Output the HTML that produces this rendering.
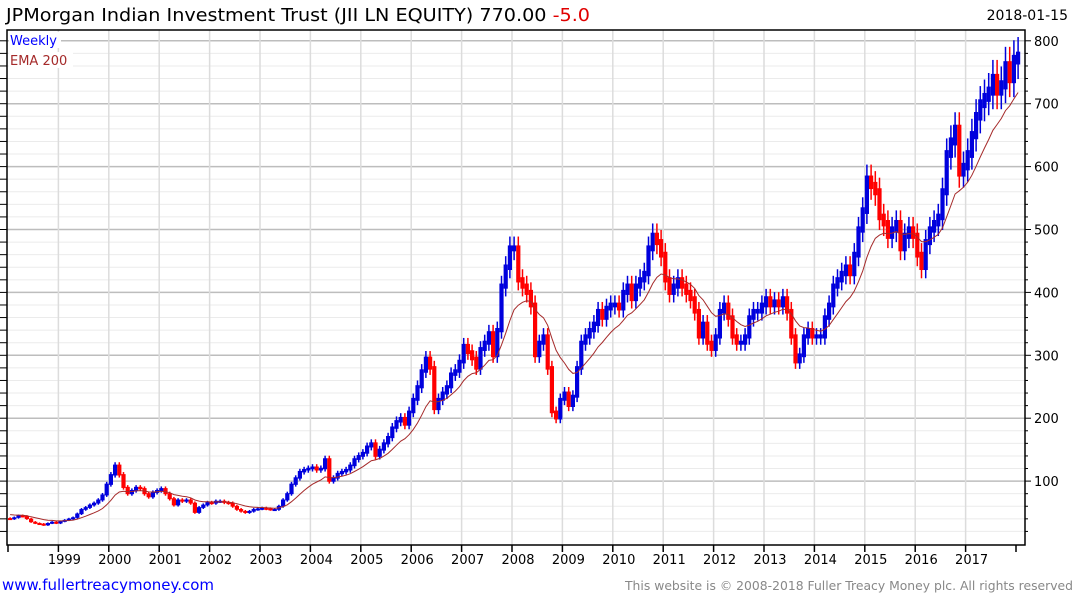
<!DOCTYPE html>
<html><head><meta charset="utf-8">
<style>
html,body{margin:0;padding:0;background:#fff;width:1075px;height:600px;overflow:hidden;font-family:"DejaVu Sans","Liberation Sans",sans-serif;}
svg{position:absolute;left:0;top:0;}
</style></head>
<body>
<svg id="chart" width="1075" height="600">
  <g id="grid"></g>
  <g id="bars"></g>
  <polyline id="ema" fill="none" stroke="#a52a2a" stroke-width="1"/>
  <rect x="7" y="30" width="1018" height="515" fill="none" stroke="#000" stroke-width="1.5"/>
  <g id="axes"></g>
  <text x="6" y="21" font-size="18" fill="#000" textLength="584" lengthAdjust="spacingAndGlyphs">JPMorgan Indian Investment Trust (JII LN EQUITY) 770.00 <tspan fill="#e00000">-5.0</tspan></text>
  <text x="1068" y="20" font-size="14" fill="#000" text-anchor="end">2018-01-15</text>
  <rect x="9" y="32" width="52" height="16" fill="#fff"/>
  <text x="10" y="45" font-size="13" fill="#0000ff">Weekly</text>
  <rect x="9" y="52" width="64" height="16" fill="#fff"/>
  <text x="10" y="65" font-size="13" fill="#a52a2a">EMA 200</text>
  <text x="2" y="590" font-size="15" fill="#0000ff">www.fullertreacymoney.com</text>
  <text x="1073" y="590" font-size="12.5" fill="#888" text-anchor="end" textLength="448" lengthAdjust="spacingAndGlyphs">This website is © 2008-2018 Fuller Treacy Money plc. All rights reserved</text>
</svg>
<script>
const yearLabels = ["1999","2000","2001","2002","2003","2004","2005","2006","2007","2008","2009","2010","2011","2012","2013","2014","2015","2016","2017"];
const yTicks = [100,200,300,400,500,600,700,800];
const closes1998 = [40,42,45,44,40,35,33,32,30,33,35,33];
const closes1999 = [36,38,40,42,48,55,58,62,65,70,78,95];
const closes2000 = [110,125,110,90,80,85,90,88,80,75,82,85];
const closes2001 = [88,80,72,62,70,68,70,65,50,58,62,66];
const closes2002 = [65,68,68,66,65,60,55,52,50,52,55,56];
const closes2003 = [57,56,55,55,60,70,80,95,105,115,118,120];
const closes2004 = [122,118,120,135,100,105,112,115,118,125,135,140];
const closes2005 = [145,155,160,140,150,160,170,185,195,200,190,210];
const closes2006 = [230,250,275,295,280,215,230,240,250,270,275,290];
const closes2007 = [315,305,295,280,310,320,335,300,340,410,440,470];
const closes2008 = [470,420,410,400,380,300,320,330,280,210,200,230];
const closes2009 = [240,220,235,280,320,330,340,350,370,360,375,380];
const closes2010 = [380,375,400,410,390,410,420,430,470,490,480,460];
const closes2011 = [420,400,410,420,410,400,390,370,330,350,320,310];
const closes2012 = [330,370,380,360,330,320,320,330,360,370,370,380];
const closes2013 = [390,380,385,380,390,370,330,290,300,330,340,330];
const closes2014 = [330,330,360,380,410,420,430,440,430,460,500,530];
const closes2015 = [580,570,560,520,510,490,500,510,470,490,500,490];
const closes2016 = [460,440,480,500,510,520,560,620,640,660,590,600];
const closes2017 = [620,650,680,700,710,720,740,720,730,760,740,770];
const closes2018 = [775];
const closes = [].concat(closes1998,closes1999,closes2000,closes2001,closes2002,closes2003,closes2004,closes2005,closes2006,closes2007,closes2008,closes2009,closes2010,closes2011,closes2012,closes2013,closes2014,closes2015,closes2016,closes2017,closes2018);
const emaStart = 48;

const NS="http://www.w3.org/2000/svg";
const X0=8, PXY=50.4, PL=7, PR=1025, PT=30, PB=545;
function xYear(y){return X0+(y-1998)*PXY;}
function xMonth(i){return X0+(i+0.5)*PXY/12;}
function yVal(v){return 544-0.629*v;}
function mk(tag,attrs,parent){const e=document.createElementNS(NS,tag);for(const k in attrs)e.setAttribute(k,attrs[k]);parent.appendChild(e);return e;}

const grid=document.getElementById('grid'), axes=document.getElementById('axes'), bars=document.getElementById('bars');
for(let v=20;v<=820;v+=20){
  const y=yVal(v); if(y<PT||y>PB)continue;
  const major=v%100===0;
  const l=mk('line',{x1:PL,x2:PR,y1:y,y2:y,stroke:major?'#bdbdbd':'#ebebeb','stroke-width':major?1.5:1},grid);
  
  
  const t=mk('line',{x1:0,x2:PL,y1:y,y2:y,stroke:'#000','stroke-width':1},axes);
  
  
  const t2=mk('line',{x1:PR,x2:PR+(major?6:3),y1:y,y2:y,stroke:'#000','stroke-width':1},axes);
  
  
}
for(let yr=1998;yr<=2018;yr++){
  const x=xYear(yr);
  if(yr>1998&&yr<2018){
    const g=mk('line',{x1:x,x2:x,y1:PT,y2:PB,stroke:'#dcdcdc','stroke-width':1.5},grid);
    
    
  }
  const t=mk('line',{x1:x,x2:x,y1:PB,y2:PB+7,stroke:'#000','stroke-width':1.5},axes);
  
  
}
yearLabels.forEach(lab=>{
  const yr=+lab;
  const t=mk('text',{x:xYear(yr)+6,y:564,'font-size':13,'text-anchor':'middle',fill:'#000'},axes);
  t.textContent=lab;
  
  
});
yTicks.forEach(v=>{
  const t=mk('text',{x:1034,y:yVal(v)+5,'font-size':13,fill:'#000'},axes);
  t.textContent=v;
  
  
});

let prev=closes[0]*1.02;
closes.forEach((c,i)=>{
  const o=prev, up=c>=o, col=up?'#0000dd':'#ff0000';
  const x=xMonth(i), hi=Math.max(o,c)*1.04, lo=Math.min(o,c)*0.96;
  const w=mk('line',{x1:x,x2:x,y1:yVal(hi),y2:yVal(lo),stroke:col,'stroke-width':1.5},bars);
  
  
  const top=yVal(Math.max(o,c)*1.01), bot=yVal(Math.min(o,c)*0.99);
  const r=mk('rect',{x:x-2.1,y:top,width:4.2,height:Math.max(2,bot-top),fill:col},bars);
  
  
  prev=c;
});
let e=emaStart; const pts=[];
closes.forEach((c,i)=>{e=e+0.15*(c-e);pts.push(xMonth(i).toFixed(1)+','+yVal(e).toFixed(1));});
document.getElementById('ema').setAttribute('points',pts.join(' '));
</script>
</body></html>
